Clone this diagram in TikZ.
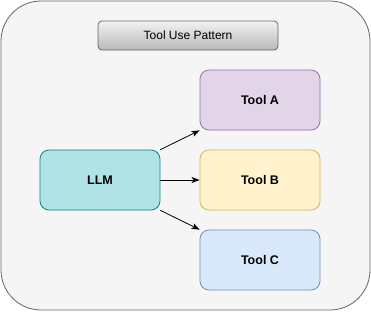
\documentclass[tikz,border=0pt]{standalone}
\usepackage{fontspec}
\setmainfont{Liberation Sans}
\usetikzlibrary{arrows.meta}
\definecolor{outerfill}{HTML}{F5F5F5}
\definecolor{outerline}{HTML}{666666}
\definecolor{afill}{HTML}{E1D5E7}\definecolor{aline}{HTML}{9673A6}
\definecolor{bfill}{HTML}{FFF2CC}\definecolor{bline}{HTML}{D6B656}
\definecolor{cfill}{HTML}{DAE8FC}\definecolor{cline}{HTML}{6C8EBF}
\definecolor{lfill}{HTML}{B0E3E6}\definecolor{lline}{HTML}{0E8088}
\definecolor{ttop}{HTML}{F2F2F2}\definecolor{tbot}{HTML}{B8B8B8}
\tikzset{
  box/.style={draw, rounded corners=9pt, minimum width=120pt, minimum height=60pt, inner sep=0pt, line width=0.8pt, font=\fontsize{12.5}{14}\selectfont\bfseries},
  conn/.style={-{Stealth[length=8pt,width=6pt,inset=2pt]}, line width=0.8pt, shorten >=0pt}
}
\begin{document}
\begin{tikzpicture}[x=1pt,y=-1pt]
\useasboundingbox (0,0) rectangle (371,311);
\node[draw=outerline, fill=outerfill, rounded corners=40pt, line width=0.8pt, minimum width=369pt, minimum height=309pt, inner sep=0pt] (outer) at (185.5,155.5) {};
\node[draw=outerline, top color=ttop, bottom color=tbot, rounded corners=4pt, minimum width=180pt, minimum height=29pt, inner sep=0pt, line width=0.8pt, font=\fontsize{12}{14}\selectfont] (title) at (188,35.5) {Tool Use Pattern};
\node[box, draw=aline, fill=afill] (a) at (260,100) {Tool A};
\node[box, draw=bline, fill=bfill] (b) at (260,180) {Tool B};
\node[box, draw=cline, fill=cfill] (c) at (260,260) {Tool C};
\node[box, draw=lline, fill=lfill] (llm) at (100,180) {LLM};
\draw[conn] (llm.north east) -- (a.south west);
\draw[conn] (llm.east) -- (b.west);
\draw[conn] (llm.south east) -- (c.north west);
\end{tikzpicture}
\end{document}
